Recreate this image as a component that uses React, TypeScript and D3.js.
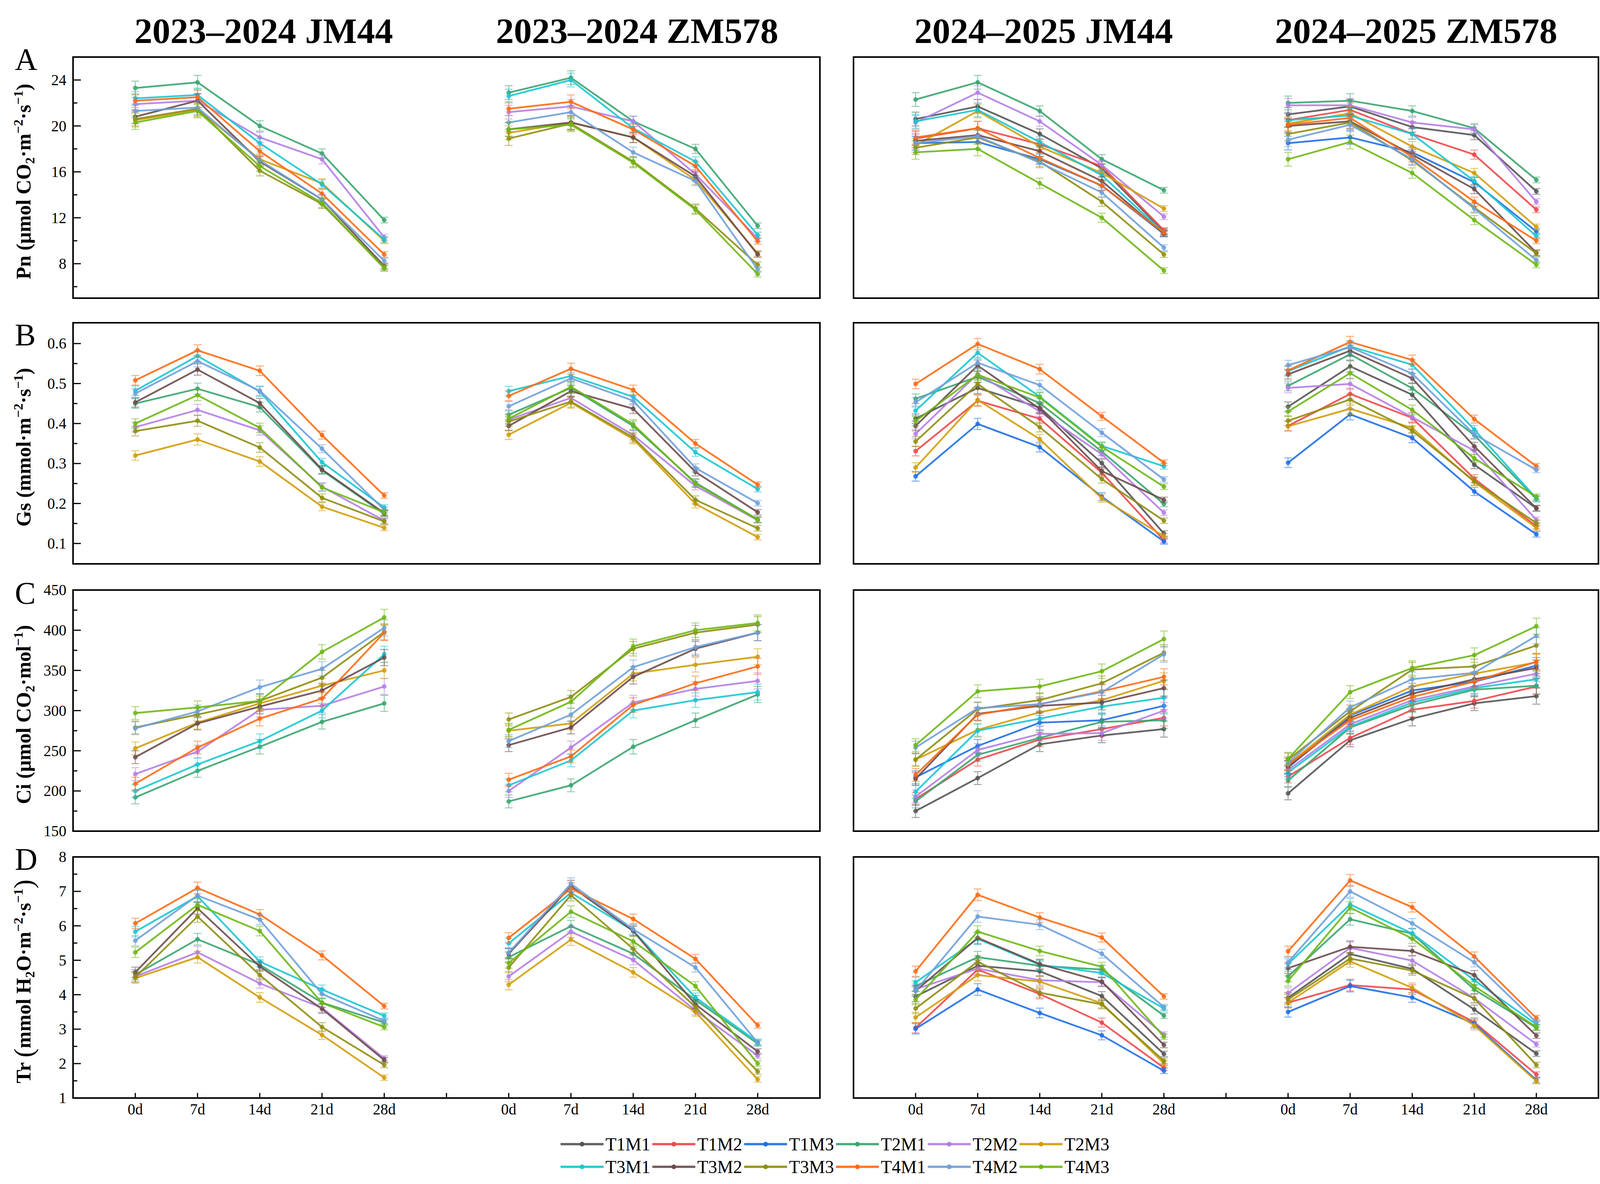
import React, { useEffect, useRef } from 'react';
import * as d3 from 'd3';

const W = 4128;
const H = 3030;

const days = ['0d', '7d', '14d', '21d', '28d'];
const seriesNames = ['T1M1', 'T1M2', 'T1M3', 'T2M1', 'T2M2', 'T2M3', 'T3M1', 'T3M2', 'T3M3', 'T4M1', 'T4M2', 'T4M3'];
const seriesColors = ['#555555', '#f0484b', '#1f6fe5', '#3aa56f', '#b57ee6', '#d19d0b', '#19c6d1', '#6d4c4c', '#8e8e12', '#ff6a13', '#6fa0da', '#6eb715'];
const groupTitles = [['2023–2024 JM44', '2023–2024 ZM578'], ['2024–2025 JM44', '2024–2025 ZM578']];

// series order follows seriesNames; T1 was not in the 2023-2024 trial (null)
// ---- Pn ----
const pnJM44_2324 = [
  null, null, null,
  [23.3, 23.8, 20.0, 17.6, 11.8],
  [21.9, 22.2, 19.0, 17.1, 10.3],
  [20.5, 21.4, 17.1, 15.0, 10.0],
  [22.4, 22.7, 18.5, 14.9, 10.1],
  [20.8, 22.2, 16.9, 13.6, 7.8],
  [20.6, 21.5, 16.1, 13.2, 7.65],
  [22.2, 22.5, 17.8, 14.1, 8.8],
  [21.3, 21.6, 17.0, 13.6, 8.25],
  [20.3, 21.3, 16.5, 13.3, 7.6],
];
const pnZM578_2324 = [
  null, null, null,
  [22.9, 24.2, 20.4, 18.0, 11.3],
  [21.2, 21.7, 20.4, 15.8, 10.2],
  [19.4, 20.3, 19.0, 15.3, 8.9],
  [22.6, 24.0, 19.8, 16.9, 10.5],
  [19.7, 20.3, 19.0, 15.6, 8.8],
  [18.9, 20.2, 16.9, 12.8, 7.9],
  [21.5, 22.1, 19.7, 16.5, 9.95],
  [20.3, 21.2, 17.7, 15.2, 7.5],
  [19.7, 20.1, 16.8, 12.7, 7.1],
];
const pnJM44_2425 = [
  [20.6, 21.7, 19.3, 16.3, 10.8],
  [18.9, 19.8, 18.4, 16.5, 10.9],
  [18.5, 18.6, 17.1, 14.8, 10.6],
  [22.3, 23.8, 21.3, 17.1, 14.4],
  [20.3, 22.9, 20.4, 16.6, 12.1],
  [18.3, 21.3, 18.2, 15.9, 12.8],
  [20.4, 21.4, 18.6, 15.7, 10.7],
  [18.7, 19.2, 17.8, 15.2, 10.6],
  [18.1, 19.0, 16.9, 13.4, 8.8],
  [19.0, 19.8, 17.2, 14.8, 10.7],
  [18.5, 19.1, 16.8, 14.2, 9.4],
  [17.7, 18.0, 15.0, 12.0, 7.4],
];
const pnZM578_2425 = [
  [21.0, 21.7, 19.9, 19.2, 14.3],
  [20.5, 21.4, 19.3, 17.5, 12.7],
  [18.5, 19.0, 17.7, 15.1, 10.8],
  [22.0, 22.2, 21.3, 19.8, 15.3],
  [21.8, 21.8, 20.3, 19.7, 13.4],
  [20.2, 21.1, 18.2, 15.9, 11.2],
  [20.5, 20.9, 19.3, 15.2, 10.4],
  [20.0, 20.4, 17.5, 14.5, 8.95],
  [19.3, 20.3, 17.0, 12.9, 8.9],
  [20.1, 20.7, 17.3, 13.4, 10.0],
  [18.8, 20.1, 17.1, 12.8, 8.3],
  [17.1, 18.6, 15.9, 11.8, 7.9],
];

// ---- Gs ----
const gsJM44_2324 = [
  null, null, null,
  [0.450, 0.487, 0.441, 0.283, 0.174],
  [0.391, 0.434, 0.383, 0.242, 0.157],
  [0.320, 0.360, 0.305, 0.192, 0.139],
  [0.482, 0.569, 0.480, 0.303, 0.190],
  [0.453, 0.535, 0.451, 0.285, 0.176],
  [0.381, 0.407, 0.340, 0.214, 0.155],
  [0.508, 0.583, 0.532, 0.371, 0.220],
  [0.475, 0.556, 0.482, 0.337, 0.184],
  [0.400, 0.471, 0.389, 0.240, 0.178],
];
const gsZM578_2324 = [
  null, null, null,
  [0.422, 0.489, 0.394, 0.252, 0.160],
  [0.410, 0.464, 0.371, 0.244, 0.158],
  [0.372, 0.452, 0.361, 0.199, 0.116],
  [0.481, 0.519, 0.467, 0.328, 0.236],
  [0.394, 0.481, 0.437, 0.279, 0.178],
  [0.405, 0.455, 0.365, 0.209, 0.138],
  [0.469, 0.537, 0.484, 0.350, 0.247],
  [0.443, 0.513, 0.457, 0.289, 0.201],
  [0.412, 0.492, 0.398, 0.250, 0.159],
];
const gsJM44_2425 = [
  [0.412, 0.489, 0.440, 0.301, 0.125],
  [0.331, 0.457, 0.412, 0.277, 0.108],
  [0.268, 0.399, 0.341, 0.217, 0.105],
  [0.462, 0.517, 0.451, 0.330, 0.199],
  [0.374, 0.524, 0.430, 0.323, 0.177],
  [0.290, 0.459, 0.361, 0.213, 0.118],
  [0.432, 0.577, 0.467, 0.344, 0.293],
  [0.394, 0.545, 0.437, 0.281, 0.209],
  [0.355, 0.499, 0.391, 0.261, 0.157],
  [0.499, 0.599, 0.536, 0.418, 0.302],
  [0.453, 0.552, 0.496, 0.377, 0.260],
  [0.406, 0.522, 0.465, 0.342, 0.242],
];
const gsZM578_2425 = [
  [0.442, 0.543, 0.472, 0.297, 0.188],
  [0.394, 0.474, 0.414, 0.262, 0.143],
  [0.302, 0.423, 0.364, 0.230, 0.123],
  [0.494, 0.573, 0.488, 0.371, 0.211],
  [0.489, 0.499, 0.416, 0.332, 0.159],
  [0.393, 0.437, 0.389, 0.254, 0.139],
  [0.531, 0.593, 0.547, 0.385, 0.213],
  [0.523, 0.582, 0.513, 0.343, 0.188],
  [0.407, 0.460, 0.382, 0.256, 0.151],
  [0.533, 0.604, 0.559, 0.411, 0.293],
  [0.546, 0.591, 0.525, 0.373, 0.284],
  [0.430, 0.526, 0.434, 0.313, 0.217],
];

// ---- Ci ----
const ciJM44_2324 = [
  null, null, null,
  [192, 225, 255, 286, 309],
  [221, 249, 301, 306, 330],
  [253, 285, 309, 331, 350],
  [200, 233, 262, 300, 370],
  [242, 284, 305, 325, 366],
  [279, 295, 312, 341, 398],
  [209, 254, 290, 315, 397],
  [278, 299, 329, 352, 403],
  [297, 304, 312, 373, 416],
];
const ciZM578_2324 = [
  null, null, null,
  [187, 207, 255, 288, 320],
  [200, 254, 310, 327, 337],
  [275, 284, 346, 357, 367],
  [207, 238, 300, 313, 323],
  [257, 279, 342, 377, 397],
  [289, 317, 377, 397, 407],
  [214, 243, 307, 334, 355],
  [262, 295, 354, 379, 397],
  [276, 311, 380, 400, 409],
];
const ciJM44_2425 = [
  [175, 216, 258, 269, 277],
  [190, 239, 264, 277, 291],
  [217, 256, 285, 288, 306],
  [187, 245, 266, 286, 288],
  [193, 251, 271, 272, 300],
  [239, 276, 298, 313, 337],
  [199, 275, 290, 305, 316],
  [215, 296, 306, 310, 328],
  [239, 302, 313, 334, 372],
  [220, 295, 308, 324, 342],
  [254, 303, 308, 323, 370],
  [257, 324, 330, 349, 389],
];
const ciZM578_2425 = [
  [197, 263, 290, 309, 318],
  [218, 266, 301, 312, 330],
  [229, 294, 325, 336, 356],
  [213, 279, 307, 326, 331],
  [226, 283, 313, 330, 346],
  [233, 295, 330, 346, 360],
  [223, 280, 310, 328, 339],
  [230, 291, 321, 339, 353],
  [239, 299, 351, 355, 381],
  [233, 288, 317, 336, 361],
  [235, 304, 339, 347, 393],
  [240, 323, 353, 369, 405],
];

// ---- Tr ----
const trJM44_2324 = [
  null, null, null,
  [4.58, 5.61, 4.87, 3.77, 3.19],
  [4.53, 5.23, 4.33, 3.62, 2.15],
  [4.48, 5.09, 3.92, 2.83, 1.59],
  [5.83, 6.86, 4.96, 4.15, 3.39],
  [4.65, 6.51, 4.82, 3.59, 2.10],
  [4.51, 6.27, 4.57, 3.06, 1.96],
  [6.07, 7.10, 6.33, 5.14, 3.67],
  [5.57, 6.88, 6.18, 4.02, 3.24],
  [5.23, 6.61, 5.85, 3.76, 3.06],
];
const trZM578_2324 = [
  null, null, null,
  [5.09, 5.99, 5.19, 3.85, 2.58],
  [4.53, 5.83, 5.01, 3.54, 2.23],
  [4.29, 5.60, 4.65, 3.50, 1.54],
  [5.49, 6.96, 5.86, 3.92, 2.63],
  [5.19, 7.15, 5.85, 3.72, 2.35],
  [4.79, 6.89, 5.33, 3.64, 1.77],
  [5.65, 7.08, 6.20, 5.04, 3.11],
  [5.22, 7.22, 5.90, 4.79, 2.61],
  [4.92, 6.41, 5.55, 4.25, 2.00],
];
const trJM44_2425 = [
  [3.95, 4.84, 4.68, 3.96, 2.28],
  [3.04, 4.73, 4.02, 3.19, 1.88],
  [3.01, 4.15, 3.47, 2.82, 1.79],
  [4.25, 5.09, 4.84, 4.73, 3.39],
  [4.16, 4.76, 4.42, 4.36, 2.84],
  [3.34, 4.57, 4.38, 3.75, 2.01],
  [4.36, 5.62, 4.87, 4.63, 3.60],
  [4.11, 5.65, 4.89, 4.38, 2.54],
  [3.60, 4.96, 4.06, 3.72, 2.08],
  [4.68, 6.90, 6.24, 5.66, 3.95],
  [4.11, 6.27, 6.03, 5.19, 3.64],
  [3.86, 5.83, 5.27, 4.81, 2.78],
];
const trZM578_2425 = [
  [3.91, 5.18, 4.75, 3.57, 2.29],
  [3.77, 4.28, 4.15, 3.20, 1.68],
  [3.50, 4.25, 3.92, 3.16, 1.52],
  [4.53, 6.19, 5.77, 4.15, 3.04],
  [4.05, 5.36, 4.99, 3.90, 2.56],
  [3.77, 4.97, 4.20, 3.11, 1.49],
  [4.89, 6.62, 5.78, 4.42, 3.14],
  [4.77, 5.39, 5.27, 4.57, 2.81],
  [3.86, 5.05, 4.70, 3.89, 1.96],
  [5.26, 7.32, 6.54, 5.11, 3.32],
  [4.94, 7.00, 6.07, 4.94, 3.20],
  [4.40, 6.53, 5.63, 4.25, 3.06],
];

// typical error bar size per sampling day
const pnErr = [0.6, 0.6, 0.45, 0.4, 0.25];
const gsErr = [0.012, 0.014, 0.012, 0.01, 0.007];
const ciErr = [8, 8, 9, 9, 10];
const trErr = [0.15, 0.17, 0.14, 0.13, 0.08];

const pnTicks = [8, 12, 16, 20, 24];
const pnMinor = [6, 10, 14, 18, 22];
const gsTicks = [0.1, 0.2, 0.3, 0.4, 0.5, 0.6];
const gsMinor = [0.15, 0.25, 0.35, 0.45, 0.55];
const ciTicks = [150, 200, 250, 300, 350, 400, 450];
const ciMinor = [175, 225, 275, 325, 375, 425];
const trTicks = [1, 2, 3, 4, 5, 6, 7, 8];
const trMinor = [1.5, 2.5, 3.5, 4.5, 5.5, 6.5, 7.5];

const panelX = [187, 2185];
const panelW = [1912, 1907];
const rowTop = [146, 826, 1510, 2193];
const panelH = 617;
const serif = '"Liberation Serif", "Times New Roman", serif';

const App = () => {
  const ref = useRef(null);

  useEffect(() => {
    const svg = d3.select(ref.current);
    svg.selectAll('*').remove();

    // label parts: [text, kind] kind 0 normal, 1 subscript, 2 superscript, 3 big paren
    const rows = [
      {
        letter: 'A', letterY: 179, domain: [5, 26], ticks: pnTicks, minor: pnMinor, err: pnErr,
        label: [['Pn (μmol CO', 0], ['2', 1], ['·m', 0], ['−2', 2], ['·s', 0], ['−1', 2], [')', 0]],
        data: [[pnJM44_2324, pnZM578_2324], [pnJM44_2425, pnZM578_2425]],
      },
      {
        letter: 'B', letterY: 884, domain: [0.049, 0.652], ticks: gsTicks, minor: gsMinor, err: gsErr,
        label: [['Gs (mmol·m', 0], ['−2', 2], ['·s', 0], ['−1', 2], [')', 0]],
        data: [[gsJM44_2324, gsZM578_2324], [gsJM44_2425, gsZM578_2425]],
      },
      {
        letter: 'C', letterY: 1545, domain: [150, 450], ticks: ciTicks, minor: ciMinor, err: ciErr,
        label: [['Ci (μmol CO', 0], ['2', 1], ['·mol', 0], ['−1', 2], [')', 0]],
        data: [[ciJM44_2324, ciZM578_2324], [ciJM44_2425, ciZM578_2425]],
      },
      {
        letter: 'D', letterY: 2226, domain: [1, 8], ticks: trTicks, minor: trMinor, err: trErr,
        label: [['Tr ', 0], ['(', 3], ['mmol H', 0], ['2', 1], ['O·m', 0], ['−2', 2], ['·s', 0], ['−1', 2], [')', 3]],
        data: [[trJM44_2324, trZM578_2324], [trJM44_2425, trZM578_2425]],
      },
    ];

    const line = d3.line().x(d => d[0]).y(d => d[1]);
    const sizeOf = k => (k === 1 || k === 2 ? '34px' : k === 3 ? '70px' : '52px');

    rows.forEach((row, r) => {
      const top = rowTop[r];
      const bottom = top + panelH;
      const y = d3.scaleLinear().domain(row.domain).range([bottom, top]);

      // row letter
      svg.append('text')
        .attr('x', 38).attr('y', row.letterY)
        .style('font-family', serif).style('font-size', '80px')
        .text(row.letter);

      // y axis label
      const lab = svg.append('text')
        .attr('transform', `translate(78,${top + panelH / 2 + 10}) rotate(-90)`)
        .attr('text-anchor', 'middle')
        .style('font-family', serif).style('font-size', '52px').style('font-weight', 'bold');
      let shift = 0;
      row.label.forEach(([t, kind]) => {
        const want = kind === 1 ? 10 : kind === 2 ? -20 : kind === 3 ? 6 : 0;
        lab.append('tspan')
          .attr('dy', want - shift)
          .style('font-size', sizeOf(kind))
          .style('font-weight', kind === 3 ? 'normal' : 'bold')
          .text(t);
        shift = want;
      });

      [0, 1].forEach(c => {
        const x = d3.scaleLinear().domain([-1, 11]).range([panelX[c], panelX[c] + panelW[c]]);
        const g = svg.append('g');

        if (c === 0) {
          row.ticks.forEach(t => {
            g.append('line')
              .attr('x1', panelX[0]).attr('x2', panelX[0] + 20)
              .attr('y1', y(t)).attr('y2', y(t))
              .attr('stroke', '#000').attr('stroke-width', 3);
            g.append('text')
              .attr('x', 170).attr('y', y(t)).attr('dy', '0.34em')
              .attr('text-anchor', 'end')
              .style('font-family', serif).style('font-size', '39px')
              .text(String(t));
          });
          row.minor.forEach(t => {
            g.append('line')
              .attr('x1', panelX[0]).attr('x2', panelX[0] + 11)
              .attr('y1', y(t)).attr('y2', y(t))
              .attr('stroke', '#000').attr('stroke-width', 3);
          });
        }

        if (r === 3) {
          d3.range(0, 11).forEach(i => {
            g.append('line')
              .attr('x1', x(i)).attr('x2', x(i))
              .attr('y1', bottom).attr('y2', bottom - 13)
              .attr('stroke', '#000').attr('stroke-width', 3);
            if (i !== 5) {
              g.append('text')
                .attr('x', x(i)).attr('y', bottom + 42)
                .attr('text-anchor', 'middle')
                .style('font-family', serif).style('font-size', '39px')
                .text(days[i % 6]);
            }
          });
        }

        if (r === 0) {
          [0, 1].forEach(k => {
            svg.append('text')
              .attr('x', x(k * 6 + 2) + 10).attr('y', 110)
              .attr('text-anchor', 'middle')
              .style('font-family', serif).style('font-size', '92px').style('font-weight', 'bold')
              .text(groupTitles[c][k]);
          });
        }

        row.data[c].forEach((grp, k) => {
          grp.forEach((vals, s) => {
            if (!vals) return;
            const col = seriesColors[s];
            const pts = vals.map((v, i) => [x(k * 6 + i), y(v), row.err[i], v]);
            const eb = g.append('g').attr('stroke', col).attr('stroke-width', 2.5).attr('opacity', 0.55);
            pts.forEach(p => {
              const y1 = y(p[3] + p[2]);
              const y2 = y(p[3] - p[2]);
              eb.append('line').attr('x1', p[0]).attr('x2', p[0]).attr('y1', y1).attr('y2', y2);
              eb.append('line').attr('x1', p[0] - 10).attr('x2', p[0] + 10).attr('y1', y1).attr('y2', y1);
              eb.append('line').attr('x1', p[0] - 10).attr('x2', p[0] + 10).attr('y1', y2).attr('y2', y2);
            });
            g.append('path')
              .attr('d', line(pts))
              .attr('fill', 'none')
              .attr('stroke', col)
              .attr('stroke-width', 4.5)
              .attr('stroke-opacity', 0.9)
              .attr('stroke-linejoin', 'round');
            g.selectAll(null)
              .data(pts)
              .enter().append('circle')
              .attr('cx', d => d[0]).attr('cy', d => d[1]).attr('r', 6)
              .attr('fill', col).attr('opacity', 0.85);
          });
        });

        g.append('rect')
          .attr('x', panelX[c]).attr('y', top)
          .attr('width', panelW[c]).attr('height', panelH)
          .attr('fill', 'none').attr('stroke', '#000').attr('stroke-width', 4);
      });
    });

    // legend
    const lg = svg.append('g');
    seriesNames.forEach((name, i) => {
      const x0 = 1435 + (i % 6) * 235;
      const yy = 2928 + Math.floor(i / 6) * 58;
      lg.append('line')
        .attr('x1', x0).attr('x2', x0 + 110).attr('y1', yy).attr('y2', yy)
        .attr('stroke', seriesColors[i]).attr('stroke-width', 6).attr('stroke-opacity', 0.9);
      lg.append('circle')
        .attr('cx', x0 + 55).attr('cy', yy).attr('r', 6)
        .attr('fill', seriesColors[i]);
      lg.append('text')
        .attr('x', x0 + 115).attr('y', yy + 16)
        .style('font-family', serif).style('font-size', '46px')
        .text(name);
    });
  }, []);

  return (
    <svg ref={ref} width={W} height={H} style={{ position: 'absolute', left: 0, top: 0, background: '#fff' }}></svg>
  );
};

export default App;
